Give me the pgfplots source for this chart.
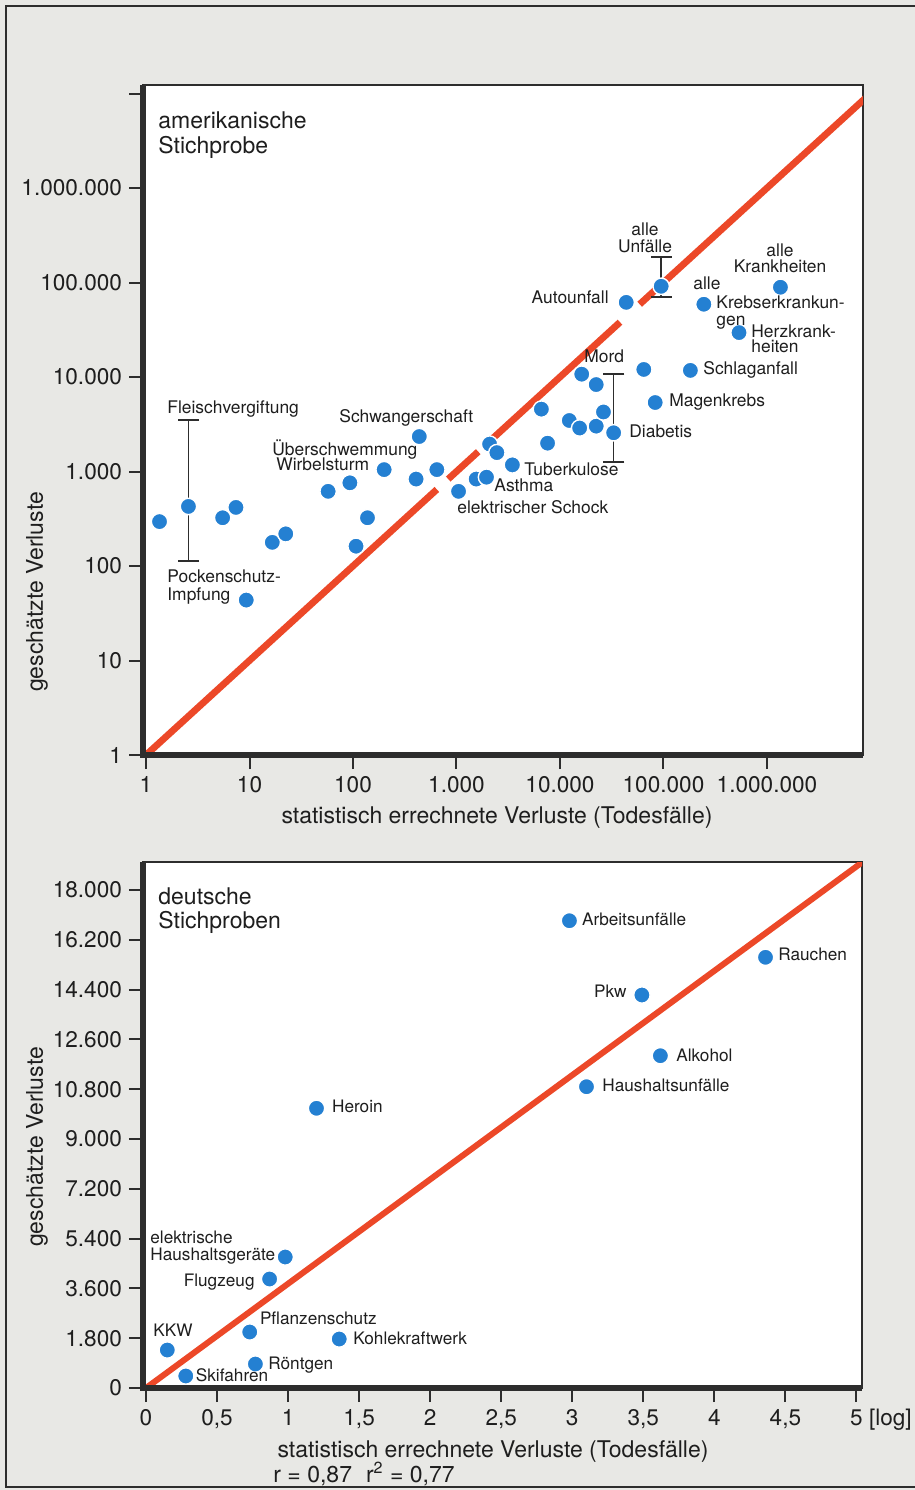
\documentclass[border=0pt]{standalone}
\usepackage{fontspec}
\setmainfont{TeX Gyre Heros}
\usepackage{pgfplots}
\pgfplotsset{compat=1.18}
\definecolor{bg}{RGB}{232,232,229}
\definecolor{dotblue}{RGB}{36,128,210}
\definecolor{redline}{RGB}{236,72,40}
\definecolor{axdark}{RGB}{45,45,45}
\definecolor{txt}{RGB}{30,30,30}
\newcommand{\lab}{\fontsize{8.7}{9.5}\selectfont}
\newcommand{\labb}{\fontsize{8.6}{9.5}\selectfont}
\newcommand{\ttl}{\fontsize{11.5}{12.5}\selectfont}
\pgfplotsset{
  myax/.style={
    scale only axis,
    axis background/.style={fill=white},
    axis line style={axdark, line width=0.7pt},
    tick pos=left, tick align=outside,
    major tick length=7pt, minor tick length=0pt,
    every tick/.style={axdark, line width=1pt},
    tick label style={font=\fontsize{11.3}{12}\selectfont, text=txt},
    scaled ticks=false,
    clip mode=individual,
  },
  dots/.style={only marks, mark=*, mark size=4.1pt,
    mark options={fill=dotblue, draw=white, line width=0.7pt}},
  ebar/.style={axdark, line width=0.8pt, mark=-, mark size=5.3pt,
    mark options={line width=1pt}},
}
\begin{document}
\begin{tikzpicture}
\begin{scope}[x=0.5pt,y=-0.5pt]
\fill[bg] (0,0) rectangle (915,1490);
\draw[axdark, line width=0.8pt] (915,6) -- (6,6) -- (6,1487) -- (915,1487);
\end{scope}

% ---------------- top plot ----------------
\begin{axis}[myax,
  at={(71.5pt,-377.5pt)}, anchor=south west,
  width=360pt, height=335pt,
  xmode=log, ymode=log,
  xmin=0.935, xmax=8.47e6, ymin=1, ymax=1.23e7,
  xtick={1,10,100,1000,10000,100000,1000000},
  xticklabels={1,10,100,1.000,10.000,100.000,1.000.000},
  ytick={1,10,100,1000,10000,100000,1000000,10000000},
  yticklabels={1,10,100,1.000,10.000,100.000,1.000.000,{}},
]
\addplot[redline, line width=3.4pt] coordinates {(1,1) (646,646)};
\addplot[redline, line width=3.4pt] coordinates {(832,832) (1622,1622)};
\addplot[redline, line width=3.4pt] coordinates {(2188,2188) (38019,38019)};
\addplot[redline, line width=3.4pt] coordinates {(58884,58884) (1.2e7,1.2e7)};
\addplot[ebar] coordinates {(2.57,112) (2.57,3467)};
\addplot[ebar] coordinates {(33000,1259) (33000,10715)};
\addplot[ebar] coordinates {(95000,70795) (95000,186209)};
\addplot[dots] table {
x y
1.35 295
2.57 427
5.5 324
7.4 417
16.6 178
22.4 219
9.3 43.6
57.5 617
93.3 759
200 1047
107 162
138 324
437 2344
407 832
646 1047
1047 617
1549 832
1950 871
3467 1175
2089 1950
2455 1585
7586 1995
6607 4571
12303 3467
15488 2884
22387 3020
26303 4266
33000 2570
16218 10715
22387 8318
64565 12023
181970 11749
83176 5370
43652 61660
95000 91201
245471 58884
537032 29512
1348963 89125
};
\draw[axdark, line width=2.6pt] (rel axis cs:0,1) -- (rel axis cs:0,0) -- (rel axis cs:1,0);
\end{axis}

% ---------------- bottom plot ----------------
\begin{axis}[myax,
  at={(71.5pt,-694pt)}, anchor=south west,
  width=359.5pt, height=263pt,
  xmin=-0.021, xmax=5.039, ymin=0, ymax=19012,
  xtick={0,0.5,1,1.5,2,2.5,3,3.5,4,4.5,5},
  xticklabels={0,{0,5},1,{1,5},2,{2,5},3,{3,5},4,{4,5},{5\rlap{ [log]}}},
  ytick={0,1800,3600,5400,7200,9000,10800,12600,14400,16200,18000},
  yticklabels={0,1.800,3.600,5.400,7.200,9.000,10.800,12.600,14.400,16.200,18.000},
]
\addplot[redline, line width=3pt] coordinates {(0,0) (5.1,19227)};
\addplot[dots] table {
x y
2.98 16890
4.36 15568
3.49 14205
3.62 12011
3.10 10890
1.20 10110
0.98 4735
0.87 3940
0.73 2024
0.15 1373
1.36 1771
0.77 867
0.28 434
};
\draw[axdark, line width=2.6pt] (rel axis cs:0,1) -- (rel axis cs:0,0) -- (rel axis cs:1,0);
\end{axis}

% ---------------- texts ----------------
\begin{scope}[x=0.5pt,y=-0.5pt, every node/.style={inner sep=0pt, text=txt}]
\node[anchor=base west, font=\ttl] at (158,128) {amerikanische};
\node[anchor=base west, font=\ttl] at (158,153) {Stichprobe};
\node[anchor=base west, font=\ttl] at (158,904) {deutsche};
\node[anchor=base west, font=\ttl] at (158,928) {Stichproben};
\node[rotate=90, font=\ttl] at (37,592) {geschätzte Verluste};
\node[rotate=90, font=\ttl] at (37,1147) {geschätzte Verluste};
\node[anchor=base, font=\ttl] at (497,823) {statistisch errechnete Verluste (Todesfälle)};
\node[anchor=base, font=\ttl] at (493,1457) {statistisch errechnete Verluste (Todesfälle)};
\node[anchor=base west, font=\ttl] at (273,1482) {r = 0,87\hspace{7pt}r\textsuperscript{2} = 0,77};

\begin{scope}[every node/.append style={font=\lab}]
\node[anchor=base west] at (167,413) {Fleischvergiftung};
\node[anchor=base west] at (339,422) {Schwangerschaft};
\node[anchor=base west] at (272,455) {Überschwemmung};
\node[anchor=base west] at (276,470.7) {Wirbelsturm};
\node[anchor=base west] at (167,582) {Pockenschutz-};
\node[anchor=base west] at (167,600) {Impfung};
\node[anchor=base west] at (457,513) {elektrischer Schock};
\node[anchor=base west] at (494,491) {Asthma};
\node[anchor=base west] at (524,475.5) {Tuberkulose};
\node[anchor=base west] at (629,437) {Diabetis};
\node[anchor=base west] at (669,406) {Magenkrebs};
\node[anchor=base west] at (703,374) {Schlaganfall};
\node[anchor=base west] at (584,362.7) {Mord};
\node[anchor=base east] at (609,303) {Autounfall};
\node[anchor=base] at (645,235) {alle};
\node[anchor=base] at (645,252) {Unfälle};
\node[anchor=base west] at (693,289) {alle};
\node[anchor=base west] at (716,308) {Krebserkrankun-};
\node[anchor=base west] at (716,325) {gen};
\node[anchor=base west] at (751,337.5) {Herzkrank-};
\node[anchor=base west] at (751,352) {heiten};
\node[anchor=base] at (780,256) {alle};
\node[anchor=base] at (780,272.7) {Krankheiten};
\end{scope}

\begin{scope}[every node/.append style={font=\labb}]
\node[anchor=base west] at (581.7,925.7) {Arbeitsunfälle};
\node[anchor=base west] at (778,960) {Rauchen};
\node[anchor=base east] at (627,997) {Pkw};
\node[anchor=base west] at (676,1061) {Alkohol};
\node[anchor=base west] at (602,1091.7) {Haushaltsunfälle};
\node[anchor=base west] at (331.7,1112.7) {Heroin};
\node[anchor=base west] at (150,1243) {elektrische};
\node[anchor=base west] at (150,1260) {Haushaltsgeräte};
\node[anchor=base east] at (255,1286) {Flugzeug};
\node[anchor=base west] at (259.6,1324) {Pflanzenschutz};
\node[anchor=base west] at (153,1336) {KKW};
\node[anchor=base west] at (353,1344) {Kohlekraftwerk};
\node[anchor=base west] at (268,1369) {Röntgen};
\node[anchor=base west] at (195.5,1381) {Skifahren};
\end{scope}
\end{scope}

\pgfresetboundingbox
\path[use as bounding box] (0pt,0pt) rectangle (457.5pt,-745pt);
\end{tikzpicture}
\end{document}
